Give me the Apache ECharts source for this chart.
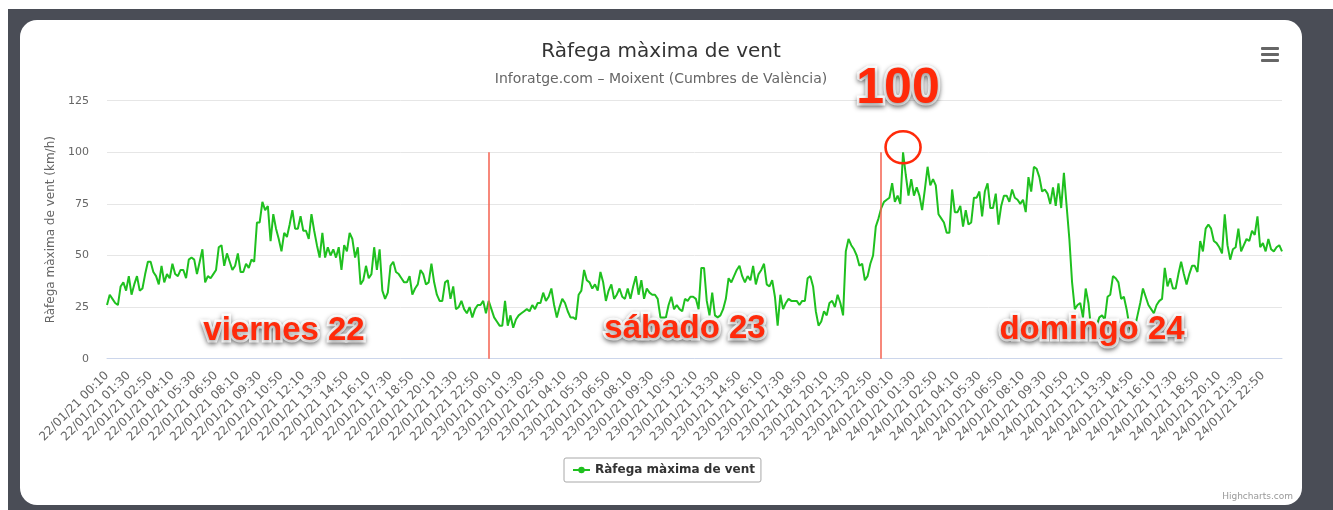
<!DOCTYPE html>
<html>
<head>
<meta charset="utf-8">
<title>Ràfega màxima de vent</title>
<script src="https://cdn.jsdelivr.net/npm/echarts@6.0.0/dist/echarts.min.js"></script>
<style>
  html, body { margin: 0; padding: 0; }
  body { width: 1333px; height: 510px; background: #fff; position: relative; overflow: hidden; }
  .frame { position: absolute; left: 8px; top: 9px; right: 0; bottom: 0; background: #4a4d56; }
  .card { position: absolute; left: 20px; top: 20px; width: 1282px; height: 485px; background: #fff; border-radius: 17px; }
  #chart { position: absolute; left: 20px; top: 20px; width: 1282px; height: 485px; }
</style>
</head>
<body>
<div class="frame"></div>
<div class="card"></div>
<div id="chart"></div>
<script>
// gust readings every 10 min, 22/01/21 00:10 -> 25/01/21 00:00
const gustDay22 = [
  26, 31, 29, 27, 26, 35, 37, 33, 40, 31,
  36, 40, 33, 34, 41, 47, 47, 42, 40, 36,
  45, 37, 41, 39, 46, 41, 40, 43, 43, 39,
  48, 49, 48, 41, 47, 53, 37, 40, 39, 41,
  43, 54, 55, 45, 51, 47, 43, 45, 51, 42,
  42, 46, 44, 48, 47, 66, 66, 76, 72, 74,
  57, 70, 63, 58, 52, 61, 59, 65, 72, 63,
  63, 69, 62, 62, 58, 70, 62, 55, 49, 61,
  49, 54, 50, 53, 49, 54, 43, 55, 52, 61,
  58, 49, 54, 36, 38, 45, 39, 41, 54, 43,
  53, 33, 29, 32, 45, 47, 42, 41, 39, 37,
  37, 40, 31, 34, 36, 43, 41, 36, 37, 46,
  37, 31, 28, 28, 37, 38, 29, 35, 24, 25,
  28, 24, 22, 25, 20, 24, 26, 26, 28, 22,
  28, 24, 20, 18
];
const gustDay23 = [
  16, 16, 28, 16, 21, 15,
  19, 21, 22, 23, 24, 23, 26, 24, 27, 27,
  32, 28, 30, 34, 26, 20, 25, 29, 27, 23,
  20, 20, 19, 31, 33, 43, 38, 37, 34, 36,
  33, 42, 37, 28, 33, 36, 29, 31, 34, 30,
  29, 34, 29, 35, 40, 31, 38, 29, 34, 32,
  31, 31, 29, 20, 20, 20, 26, 30, 24, 26,
  24, 23, 29, 28, 30, 30, 29, 24, 44, 44,
  28, 21, 32, 21, 20, 21, 24, 29, 39, 37,
  40, 43, 45, 40, 37, 40, 38, 45, 36, 41,
  43, 46, 36, 35, 38, 30, 16, 31, 24, 27,
  29, 28, 28, 28, 26, 28, 28, 39, 40, 35,
  23, 16, 18, 23, 21, 27, 28, 25, 31, 27,
  21, 52, 58, 55, 53, 50, 45, 46, 38, 40,
  46, 50, 64, 68, 73, 76, 77, 78
];
const gustDay24 = [
  85, 76,
  79, 75, 100, 89, 79, 87, 79, 83, 79, 72,
  82, 93, 84, 87, 84, 70, 68, 66, 61, 61,
  82, 71, 71, 74, 64, 72, 65, 66, 78, 78,
  81, 69, 81, 85, 73, 73, 80, 65, 74, 79,
  79, 76, 82, 78, 77, 75, 77, 71, 88, 81,
  93, 92, 88, 81, 82, 80, 75, 83, 74, 85,
  73, 90, 74, 58, 37, 24, 26, 27, 20, 34,
  27, 14, 12, 16, 20, 21, 19, 30, 31, 40,
  39, 37, 29, 30, 24, 16, 12, 15, 21, 27,
  34, 30, 26, 24, 22, 26, 28, 29, 44, 35,
  39, 34, 34, 41, 47, 41, 36, 41, 45, 45,
  42, 57, 52, 63, 65, 63, 57, 56, 54, 51,
  70, 55, 48, 53, 54, 63, 52, 55, 58, 57,
  62, 60, 69, 54, 56, 52, 58, 53, 52, 54,
  55, 52
];
const days = ['22/01/21', '23/01/21', '24/01/21', '25/01/21'];
const yTicks = [0, 25, 50, 75, 100, 125];
const dayBreaks = [140, 284];   // hand-drawn red lines
const peakIndex = 292;
const dayLabels = ['viernes 22', 'sábado 23', 'domingo 24'];

const gust = gustDay22.concat(gustDay23, gustDay24);

function pad(n) { return n < 10 ? '0' + n : '' + n; }
const categories = [];
for (let k = 1; k <= gust.length; k++) {
  const m = k * 10;
  const d = Math.floor(m / 1440);
  const mm = m % 1440;
  categories.push(days[d] + ' ' + pad(Math.floor(mm / 60)) + ':' + pad(mm % 60));
}

const red = '#ff2a0a';
function annot(text, x, y, size) {
  return {
    type: 'text', x: x, y: y, z: 100,
    style: {
      text: text, fill: red, stroke: '#fff', lineWidth: 5,
      font: 'bold ' + size + 'px "Liberation Sans", Arial, sans-serif',
      textAlign: 'center', textVerticalAlign: 'middle',
      textShadowBlur: 5, textShadowColor: 'rgba(0,0,0,0.45)', textShadowOffsetY: 2,
      shadowBlur: 5, shadowColor: 'rgba(0,0,0,0.45)', shadowOffsetY: 2
    }
  };
}

const chart = echarts.init(document.getElementById('chart'));
chart.setOption({
  animation: false,
  textStyle: { fontFamily: '"DejaVu Sans", sans-serif' },
  title: {
    text: 'Ràfega màxima de vent',
    subtext: 'Inforatge.com – Moixent (Cumbres de València)',
    left: 'center',
    top: 17,
    itemGap: 10,
    textStyle: { fontSize: 20, fontWeight: 'normal', color: '#333333' },
    subtextStyle: { fontSize: 14, color: '#666666' }
  },
  legend: {
    left: 544,
    top: 438,
    padding: [6, 6, 6, 8],
    borderColor: '#a8a8a8',
    borderWidth: 1,
    borderRadius: 2,
    itemWidth: 17,
    itemHeight: 8,
    textStyle: { fontSize: 12, fontWeight: 'bold', color: '#333333' }
  },
  grid: { left: 87, right: 20, top: 80.7, bottom: 146.3 },
  xAxis: {
    type: 'category',
    data: categories,
    boundaryGap: false,
    axisLine: { lineStyle: { color: '#ccd6eb' } },
    axisTick: { show: false },
    axisLabel: { interval: 7, rotate: 45, fontSize: 12, color: '#666666', margin: 15 }
  },
  yAxis: {
    type: 'value',
    min: yTicks[0],
    max: yTicks[yTicks.length - 1],
    interval: 25,
    name: 'Ràfega màxima de vent (km/h)',
    nameLocation: 'middle',
    nameGap: 48,
    nameTextStyle: { fontSize: 12, color: '#666666' },
    axisLabel: { fontSize: 11, color: '#666666', margin: 18 },
    splitLine: { lineStyle: { color: '#e6e6e6' } }
  },
  series: [{
    name: 'Ràfega màxima de vent',
    type: 'line',
    data: gust,
    symbol: 'circle',
    symbolSize: 8,
    showSymbol: false,
    itemStyle: { color: '#1fc01f' },
    lineStyle: { width: 2, color: '#1fc01f' },
    emphasis: { disabled: true },
    markLine: {
      silent: true,
      symbol: 'none',
      label: { show: false },
      lineStyle: { color: '#f5604f', width: 1.5, type: 'solid' },
      data: dayBreaks.map(i => [{ coord: [i, yTicks[0]] }, { coord: [i, 100] }])
    },
    markPoint: {
      silent: true,
      data: [{
        coord: [peakIndex, gust[peakIndex]],
        symbol: 'circle',
        symbolSize: [35, 32],
        symbolOffset: [0, -5],
        itemStyle: { color: 'rgba(0,0,0,0)', borderColor: red, borderWidth: 2.5 },
        label: { show: false }
      }]
    }
  }],
  graphic: [
    { type: 'rect', shape: { x: 1241, y: 27, width: 18, height: 3, r: 1 }, style: { fill: '#666' } },
    { type: 'rect', shape: { x: 1241, y: 33, width: 18, height: 3, r: 1 }, style: { fill: '#666' } },
    { type: 'rect', shape: { x: 1241, y: 39, width: 18, height: 3, r: 1 }, style: { fill: '#666' } },
    { type: 'text', x: 1273, y: 477, style: { text: 'Highcharts.com', fill: '#999', font: '9px "DejaVu Sans", sans-serif', textAlign: 'right', textVerticalAlign: 'middle' } },
    annot(dayLabels[0], 264, 311, 33),
    annot(dayLabels[1], 665, 309, 33),
    annot(dayLabels[2], 1072, 310, 33),
    annot(String(gust[peakIndex]), 878, 69, 50)
  ]
});
</script>
</body>
</html>
